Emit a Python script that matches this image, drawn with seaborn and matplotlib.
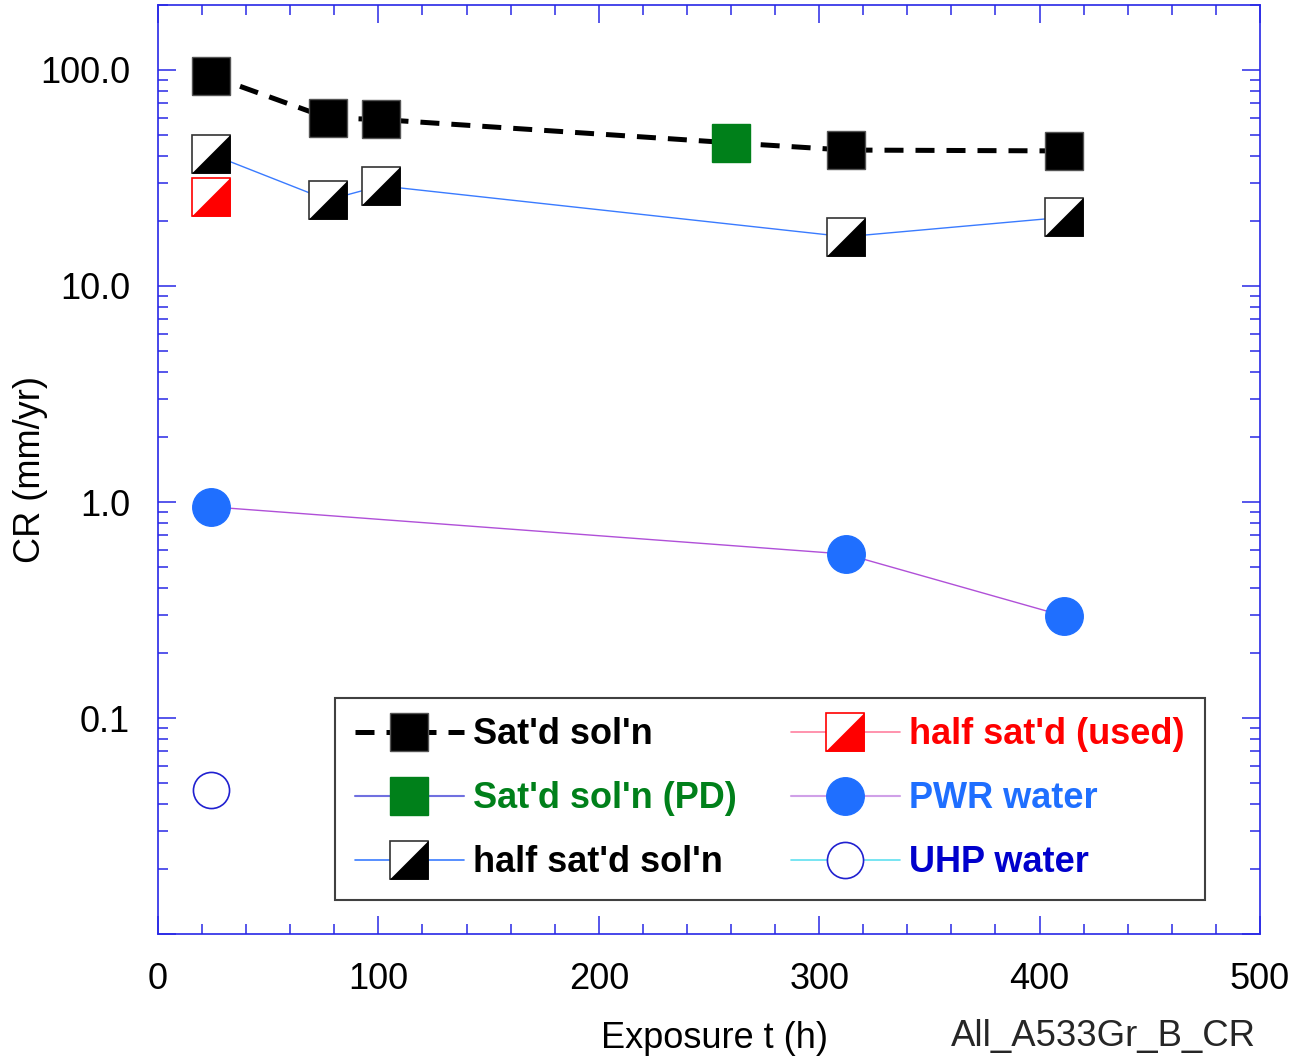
import numpy as np
import pandas as pd
import matplotlib
matplotlib.use('Agg')
import matplotlib.pyplot as plt
import seaborn as sns
from matplotlib.path import Path
from matplotlib.lines import Line2D
from matplotlib.legend_handler import HandlerTuple
from matplotlib.ticker import FixedLocator, MultipleLocator, NullFormatter, FixedFormatter

# ---------------- data ----------------
sat_t = [24, 77, 101, 312, 411]
sat_cr = [94.0, 60.0, 59.0, 42.6, 42.2]
pd_t = [260]
pd_cr = [46.0]
half_t = [24, 77, 101, 312, 411]
half_cr = [40.8, 25.0, 29.1, 16.9, 20.8]
used_t = [24]
used_cr = [25.8]
pwr_t = [24, 312, 411]
pwr_cr = [0.95, 0.574, 0.297]
uhp_t = [24]
uhp_cr = [0.0464]

x_ticks = [0, 100, 200, 300, 400, 500]
y_ticks = [0.01, 0.1, 1, 10, 100]
y_ticklabels = ['', '0.1', '1.0', '10.0', '100.0']

labels = ["Sat'd sol'n", "Sat'd sol'n (PD)", "half sat'd sol'n",
          "half sat'd (used)", "PWR water", "UHP water"]
label_colors = ['black', '#00801A', 'black', '#FF0000', '#1F6FFF', '#0000CC']

# ---------------- style ----------------
sns.set_theme(style='white')
plt.rcParams['font.family'] = ['Liberation Sans', 'DejaVu Sans']

AX_BLUE = '#2828E6'
MS = 27
tri = Path([(-1, -1), (1, -1), (1, 1), (-1, -1)],
           [Path.MOVETO, Path.LINETO, Path.LINETO, Path.CLOSEPOLY])
DASH = (0, (3.8, 2.4))

fig = plt.figure(figsize=(12.94, 10.56), dpi=100)
ax = fig.add_axes([0.1221, 0.1155, 0.8516, 0.8798])

# dashed line through saturated solution data (incl. PD point)
sat_line = pd.concat([pd.DataFrame({'t': sat_t, 'cr': sat_cr}),
                      pd.DataFrame({'t': pd_t, 'cr': pd_cr})]).sort_values('t')
sns.lineplot(data=sat_line, x='t', y='cr', estimator=None, sort=True, ax=ax,
             color='black', lw=3.6, linestyle=DASH, zorder=2)
# half sat'd line
sns.lineplot(x=half_t, y=half_cr, estimator=None, sort=False, ax=ax,
             color='#3A7BFF', lw=1.0, zorder=2)
# PWR line
sns.lineplot(x=pwr_t, y=pwr_cr, estimator=None, sort=False, ax=ax,
             color='#B050D8', lw=1.0, zorder=2)

def mk(x, y, **kw):
    sns.lineplot(x=x, y=y, estimator=None, sort=False, ax=ax,
                 linestyle='none', zorder=4, **kw)

mk(sat_t, sat_cr, marker='s', markersize=MS, markerfacecolor='black',
   markeredgecolor='#555555', markeredgewidth=1)
mk(pd_t, pd_cr, marker='s', markersize=MS, markerfacecolor='#00801A',
   markeredgecolor='#00801A', markeredgewidth=1)
mk(half_t, half_cr, marker='s', markersize=MS, markerfacecolor='white',
   markeredgecolor='#333333', markeredgewidth=1.2)
mk(half_t, half_cr, marker=tri, markersize=MS, markerfacecolor='black',
   markeredgecolor='black', markeredgewidth=0.5)
mk(used_t, used_cr, marker='s', markersize=MS, markerfacecolor='white',
   markeredgecolor='#FF0000', markeredgewidth=1.2)
mk(used_t, used_cr, marker=tri, markersize=MS, markerfacecolor='#FF0000',
   markeredgecolor='#FF0000', markeredgewidth=0.5)
mk(pwr_t, pwr_cr, marker='o', markersize=MS, markerfacecolor='#1F6FFF',
   markeredgecolor='#1F6FFF', markeredgewidth=1)
mk(uhp_t, uhp_cr, marker='o', markersize=MS - 1, markerfacecolor='none',
   markeredgecolor='#2020D0', markeredgewidth=1.2)

# ---------------- axes ----------------
ax.set_yscale('log')
ax.set_xlim(0, 500)
ax.set_ylim(0.01, 200)
ax.xaxis.set_major_locator(FixedLocator(x_ticks))
ax.xaxis.set_minor_locator(MultipleLocator(20))
ax.yaxis.set_major_locator(FixedLocator(y_ticks))
ax.yaxis.set_major_formatter(FixedFormatter(y_ticklabels))
minors = [m * 10.0 ** e for e in range(-2, 3) for m in range(2, 10)]
ax.yaxis.set_minor_locator(FixedLocator(minors))
ax.yaxis.set_minor_formatter(NullFormatter())

for sp in ax.spines.values():
    sp.set_color(AX_BLUE)
    sp.set_linewidth(1.2)
    sp.set_visible(True)

ax.tick_params(which='both', direction='in', top=True, right=True,
               bottom=True, left=True, color=AX_BLUE, width=1.1)
ax.tick_params(which='major', length=13, labelsize=26, pad=20, labelcolor='black')
ax.tick_params(which='minor', length=7.5)
ax.grid(False)

ax.set_xlabel('Exposure t (h)', fontsize=26, color='black')
ax.set_ylabel('CR (mm/yr)', fontsize=26, color='black')
ax.xaxis.set_label_coords(0.505, -0.094)
ax.yaxis.set_label_coords(-0.100, 0.5)
ax.set_facecolor('white')

fig.text(0.9705, 0.0185, 'All_A533Gr_B_CR', fontsize=26.3, ha='right', va='center')

# ---------------- legend ----------------
h1 = Line2D([], [], color='black', lw=3.6, linestyle=DASH, marker='s', ms=MS,
            mfc='black', mec='#555555', mew=1)
h2 = Line2D([], [], color='#7070E0', lw=1.5, marker='s', ms=MS,
            mfc='#00801A', mec='#00801A')
h3 = (Line2D([], [], color='#3A7BFF', lw=1.2, marker='s', ms=MS,
             mfc='white', mec='#333333', mew=1.2),
      Line2D([], [], ls='none', marker=tri, ms=MS, mfc='black', mec='black', mew=0.5))
h4 = (Line2D([], [], color='#FF80A0', lw=1.2, marker='s', ms=MS,
             mfc='white', mec='#FF0000', mew=1.2),
      Line2D([], [], ls='none', marker=tri, ms=MS, mfc='#FF0000', mec='#FF0000', mew=0.5))
h5 = Line2D([], [], color='#D0A0E8', lw=1.5, marker='o', ms=MS,
            mfc='#1F6FFF', mec='#1F6FFF')
h6 = Line2D([], [], color='#60E0F0', lw=1.2, marker='o', ms=MS - 1,
            mfc='white', mec='#2020D0', mew=1.2)

leg = ax.legend([h1, h2, h3, h4, h5, h6], labels, ncol=2,
                handler_map={tuple: HandlerTuple(ndivide=1)},
                loc='lower left', bbox_to_anchor=(0.1610, 0.0366),
                prop={'size': 26, 'weight': 'bold'},
                frameon=True, fancybox=False, shadow=False, framealpha=1,
                edgecolor='#404040', handlelength=3.0, handletextpad=0.27,
                columnspacing=1.5, borderpad=0.55, labelspacing=0.8,
                numpoints=1, borderaxespad=0)
leg.get_frame().set_linewidth(1.5)
for txt, c in zip(leg.get_texts(), label_colors):
    txt.set_color(c)

fig.savefig('out.png', dpi=100, facecolor='white')
